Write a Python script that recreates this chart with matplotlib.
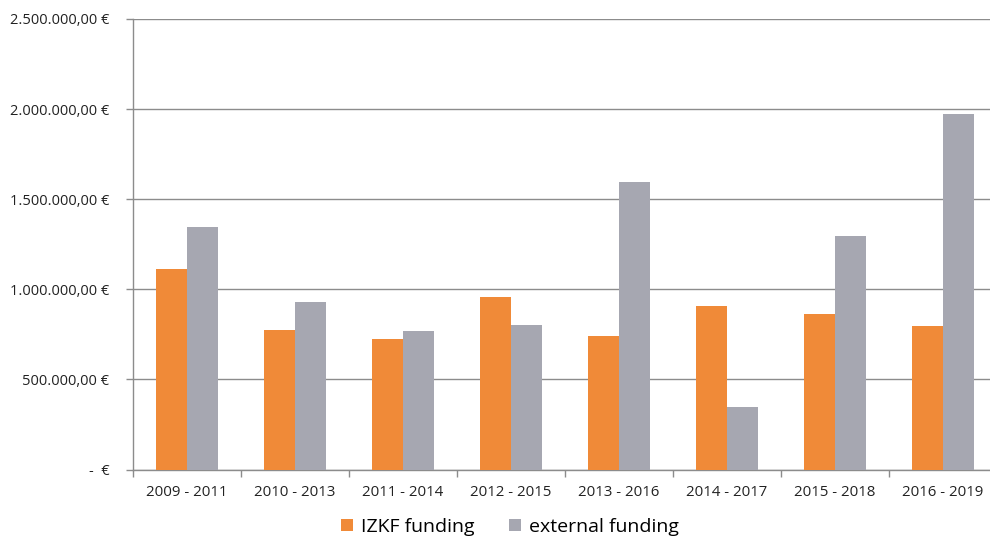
import matplotlib
matplotlib.use("Agg")
import matplotlib.pyplot as plt
import numpy as np

categories = ["2009 - 2011", "2010 - 2013", "2011 - 2014", "2012 - 2015",
              "2013 - 2016", "2014 - 2017", "2015 - 2018", "2016 - 2019"]
izkf = [1113000, 776000, 722000, 957000, 743000, 908000, 862000, 797000]
external = [1346000, 929000, 770000, 800000, 1597000, 347000, 1297000, 1973000]
yticks = [0, 500000, 1000000, 1500000, 2000000, 2500000]
ytick_labels = ["-  €", "500.000,00 €", "1.000.000,00 €", "1.500.000,00 €",
                "2.000.000,00 €", "2.500.000,00 €"]

plt.rcParams['font.family'] = ['Open Sans', 'DejaVu Sans']

fig = plt.figure(figsize=(9.90, 5.41), dpi=100)
ax = fig.add_axes([133/990, 1-469.5/541, (997-133)/990, (469.5-19)/541])

orange = "#F08A38"
gray = "#A6A7B1"
x = np.arange(len(categories))
w = 0.283
ax.bar(x - w/2, izkf, width=w, color=orange, label="IZKF funding", zorder=3)
ax.bar(x + w/2, external, width=w, color=gray, label="external funding", zorder=3)

ax.set_xlim(-0.5, len(categories) - 0.5)
ax.set_ylim(0, 2500000)
ax.set_yticks(yticks)
ax.set_yticklabels(ytick_labels, fontsize=10.5, color="#222222")
ax.yaxis.grid(True, color="#8C8C8C", linewidth=1.0, zorder=0)
ax.set_axisbelow(True)

ax.set_xticks(x)
ax.set_xticklabels(categories, fontsize=10.8, color="#222222")
ax.set_xticks(np.arange(len(categories) + 1) - 0.5, minor=True)
ax.tick_params(axis='x', which='major', length=0, pad=11)
ax.tick_params(axis='x', which='minor', length=5, color="#8C8C8C", width=1)
ax.tick_params(axis='y', which='major', length=5, color="#8C8C8C", width=1, pad=12)

for s in ["top", "right"]:
    ax.spines[s].set_visible(False)
for s in ["left", "bottom"]:
    ax.spines[s].set_color("#8C8C8C")
    ax.spines[s].set_linewidth(1.0)

fig.legend(loc="center", bbox_to_anchor=(510/990, 1-527/541), ncol=2, frameon=False,
           fontsize=14, handlelength=0.6, handleheight=0.6, handletextpad=0.4,
           columnspacing=1.8)

fig.savefig("out.png", dpi=100)
